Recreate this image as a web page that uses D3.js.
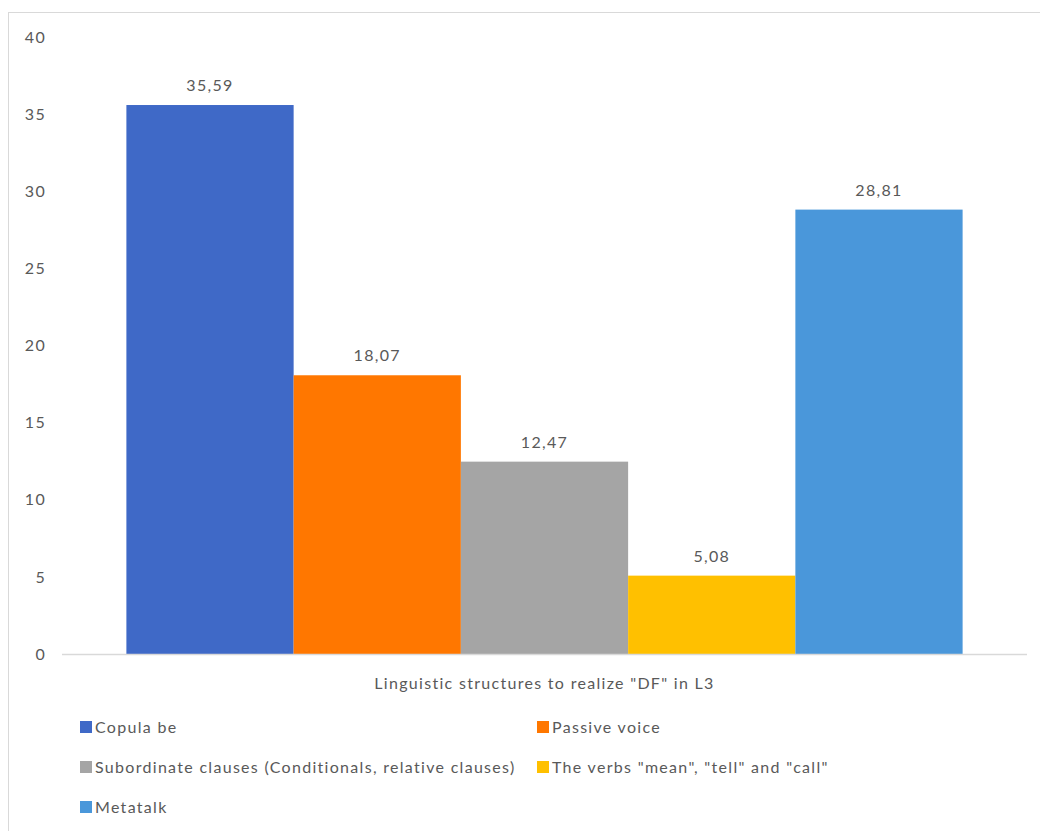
<!DOCTYPE html>
<html>
<head>
<meta charset="utf-8">
<script src="https://cdn.jsdelivr.net/npm/d3@7"></script>
<style>
  html, body { margin: 0; padding: 0; background: #fff; }
  svg text { font-family: Lato, "Open Sans", sans-serif; fill: #595959; letter-spacing: 1.3px; }
</style>
</head>
<body>
<svg id="chart" width="1040" height="831"></svg>
<script>
// Share of each linguistic structure used to realize "DF" in L3
const series = [
  "Copula be",
  "Passive voice",
  "Subordinate clauses (Conditionals, relative clauses)",
  "The verbs \"mean\", \"tell\" and \"call\"",
  "Metatalk"
];
const values = [35.59, 18.07, 12.47, 5.08, 28.81];
const colors = ["#3F69C7", "#FF7700", "#A5A5A5", "#FFC000", "#4A97DA"];
const yTicks = [0, 5, 10, 15, 20, 25, 30, 35, 40];
const category = "Linguistic structures to realize \"DF\" in L3";

const FONT = 16;
const svg = d3.select("#chart");

// chart frame
svg.append("rect")
  .attr("x", 8.5).attr("y", 12.5)
  .attr("width", 1040).attr("height", 830)
  .attr("fill", "none").attr("stroke", "#D9D9D9").attr("stroke-width", 1);

const plot = { left: 62, right: 1027, top: 37, bottom: 654 };

const y = d3.scaleLinear().domain([0, 40]).range([plot.bottom, plot.top]);

// one category, with the five series side by side inside it
const x0 = d3.scaleBand().domain([category]).range([plot.left, plot.right]).paddingInner(0).paddingOuter(0.077);
const x1 = d3.scaleBand().domain(series).range([0, x0.bandwidth()]).padding(0);

// y axis labels (no axis line, no gridlines)
const yAxis = d3.axisLeft(y).tickValues(yTicks).tickSize(0).tickPadding(0);
const yg = svg.append("g").attr("transform", `translate(46,0)`).call(yAxis);
yg.select(".domain").remove();
yg.selectAll("text").attr("font-size", FONT).attr("fill", "#595959")
  .style("font-family", "Lato, 'Open Sans', sans-serif");

// bars
const g = svg.append("g").attr("transform", `translate(${x0(category)},0)`);
g.selectAll("rect.bar").data(values).join("rect")
  .attr("class", "bar")
  .attr("x", (d, i) => x1(series[i]))
  .attr("y", d => y(d))
  .attr("width", x1.bandwidth())
  .attr("height", d => y(0) - y(d))
  .attr("fill", (d, i) => colors[i]);

// value labels
g.selectAll("text.val").data(values).join("text")
  .attr("class", "val")
  .attr("x", (d, i) => x1(series[i]) + x1.bandwidth() / 2)
  .attr("y", d => y(d) - 14)
  .attr("text-anchor", "middle")
  .attr("font-size", FONT)
  .text(d => d3.format(".2f")(d).replace(".", ","));

// category baseline
svg.append("line")
  .attr("x1", plot.left).attr("x2", plot.right)
  .attr("y1", y(0) + 0.5).attr("y2", y(0) + 0.5)
  .attr("stroke", "#D9D9D9").attr("stroke-width", 1.5);

// category label
svg.append("text")
  .attr("x", x0(category) + x0.bandwidth() / 2)
  .attr("y", 689)
  .attr("text-anchor", "middle")
  .attr("font-size", FONT)
  .text(category);

// legend: two columns, three rows
const legend = svg.append("g");
const colX = [80, 537];
const rowY = [727, 767, 807];
series.forEach((s, i) => {
  const cx = colX[i % 2], cy = rowY[Math.floor(i / 2)];
  const item = legend.append("g").attr("transform", `translate(${cx},${cy})`);
  item.append("rect").attr("x", 0).attr("y", -6).attr("width", 12).attr("height", 12).attr("fill", colors[i]);
  item.append("text").attr("x", 15).attr("y", 6).attr("font-size", FONT).text(s);
});
</script>
</body>
</html>
